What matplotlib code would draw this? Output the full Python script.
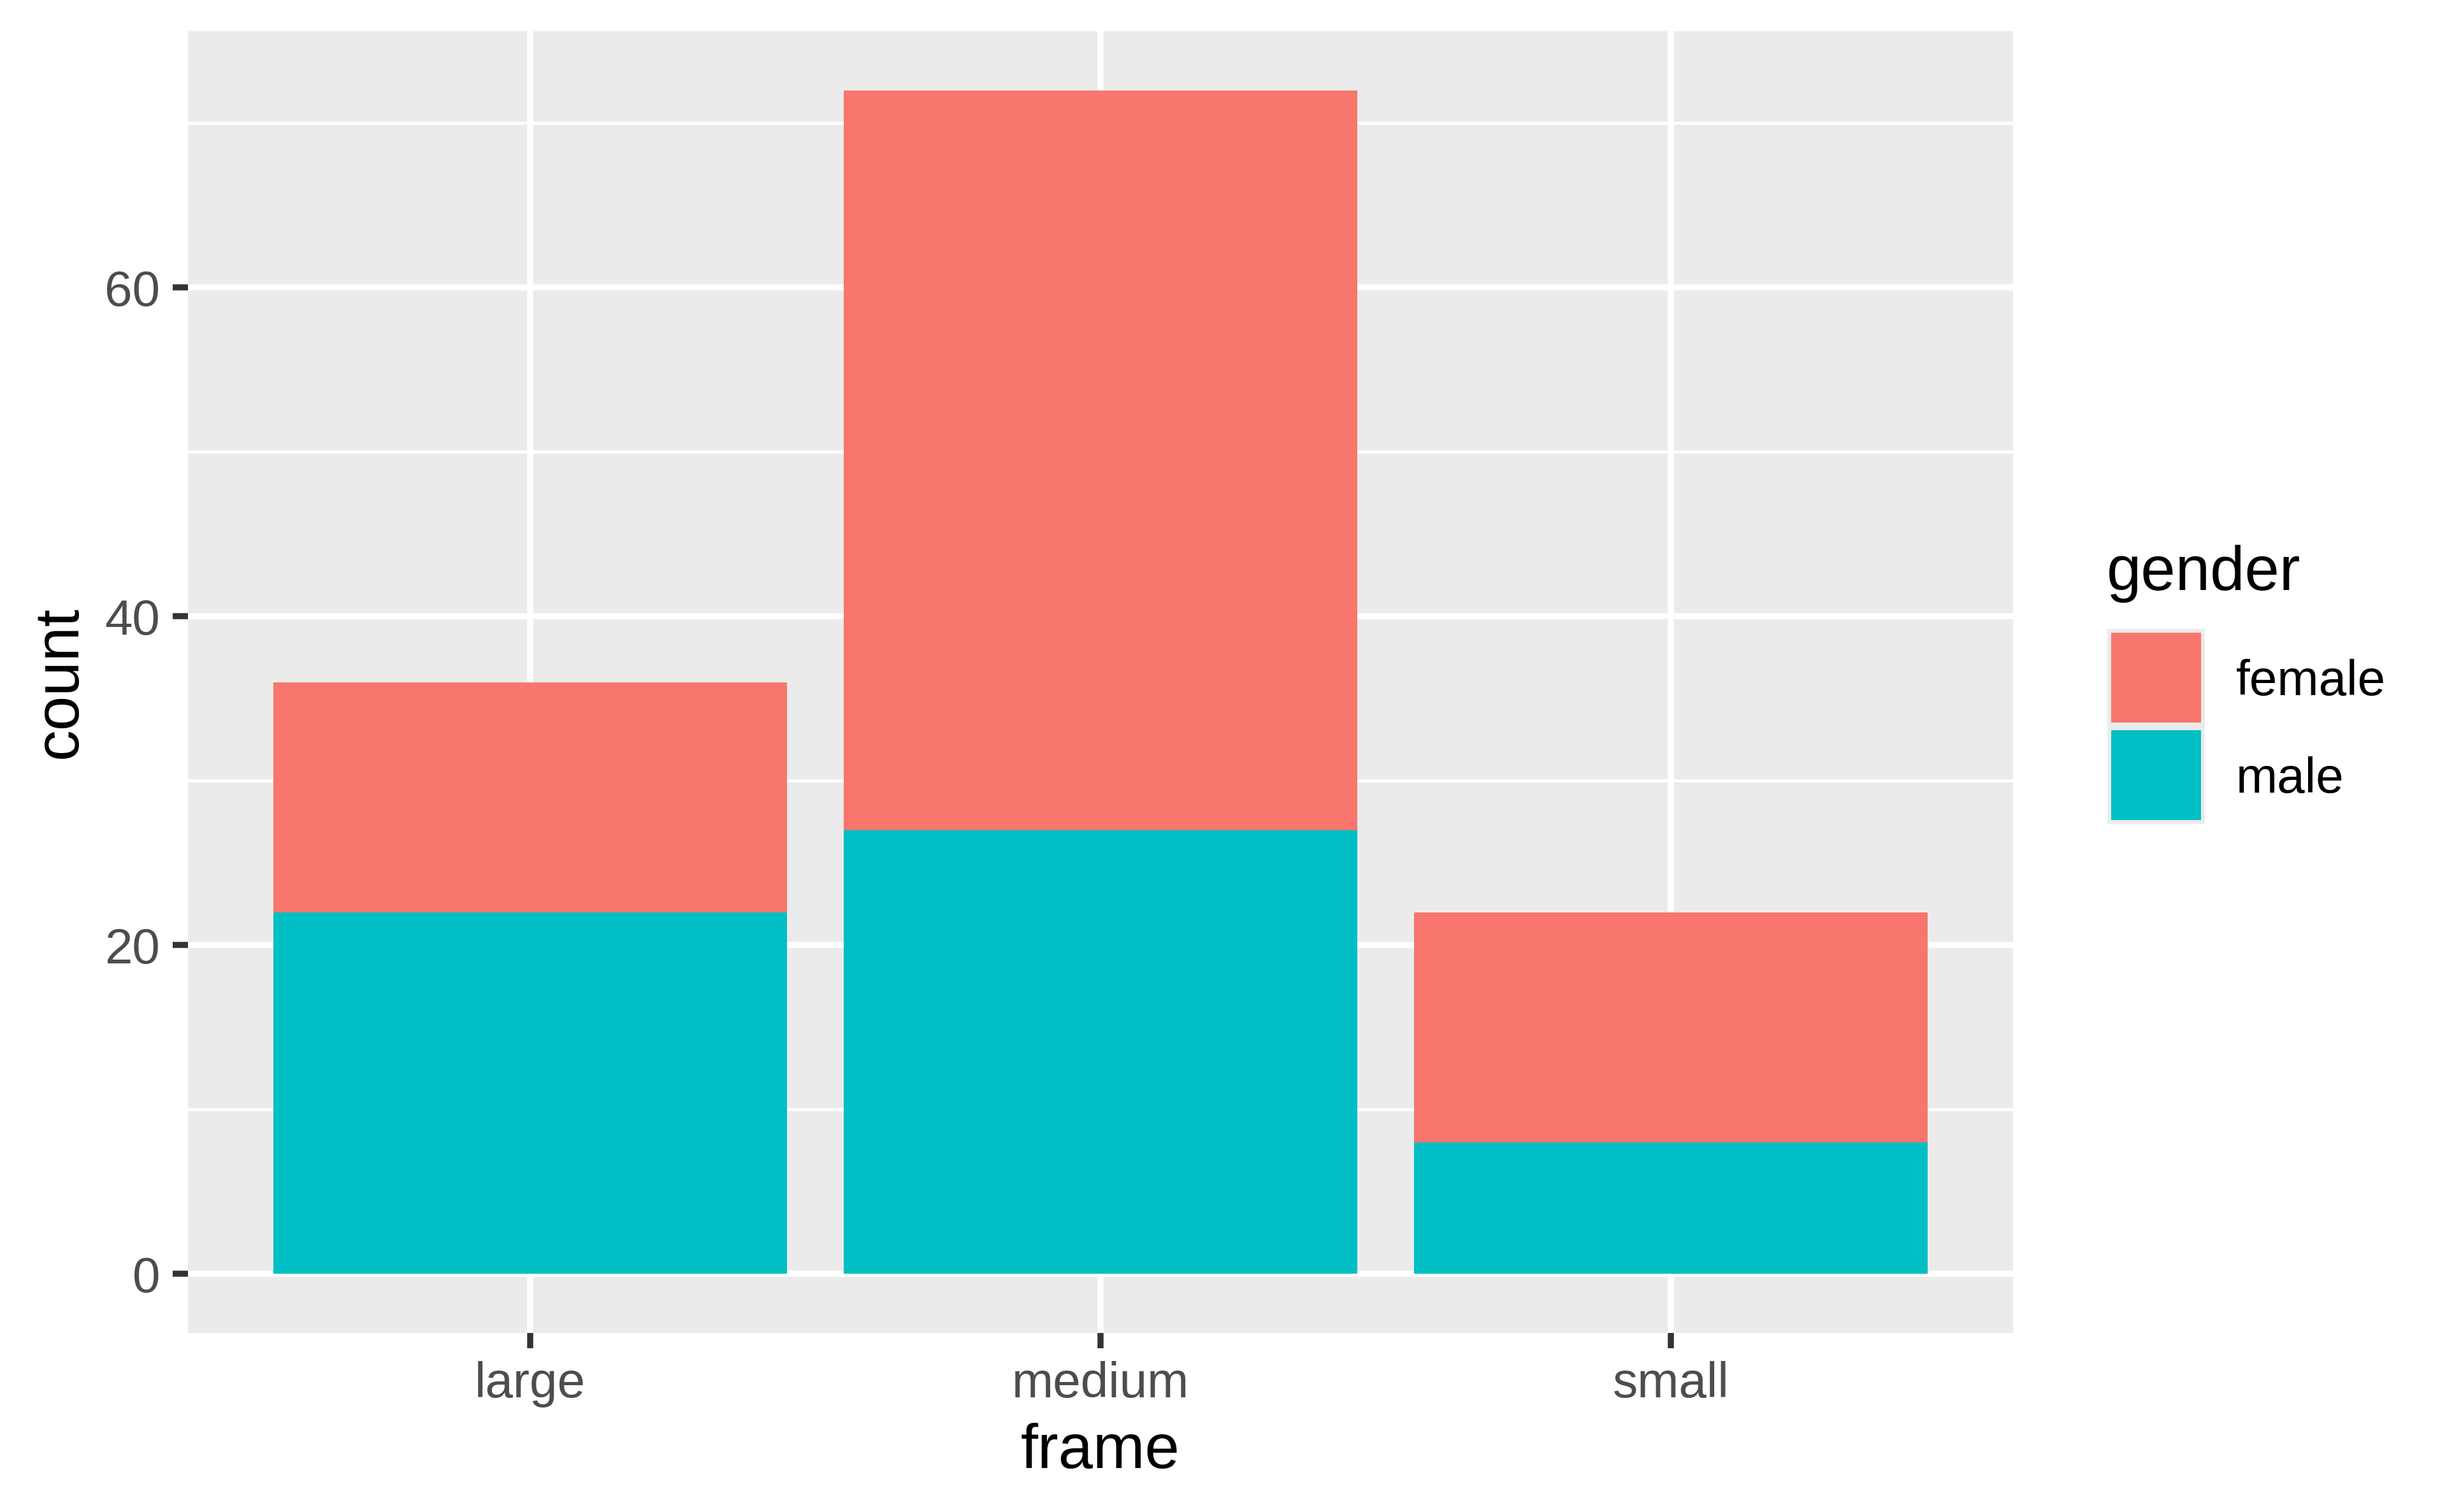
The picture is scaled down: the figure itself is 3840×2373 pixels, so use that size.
import numpy as np
import matplotlib.pyplot as plt
from matplotlib.patches import Rectangle

# Data
frames = ['large', 'medium', 'small']
male = [22, 27, 8]
female = [14, 45, 14]
genders = ['female', 'male']
colors = {'female': '#F8766D', 'male': '#00BFC4'}

W, H = 3840, 2373
DPI = 640
plt.rcParams['font.family'] = ['Liberation Sans', 'DejaVu Sans']

fig = plt.figure(figsize=(W / DPI, H / DPI), dpi=DPI)

def fx(px):
    return px / W

def fy(py):
    return 1 - py / H

# panel position (pixels in the full image)
left, right, top, bottom = 295, 3159, 49, 2092
ax = fig.add_axes([fx(left), fy(bottom), fx(right - left), fy(top) - fy(bottom)])
ax.set_facecolor('#EBEBEB')
ax.set_axisbelow(True)

x = np.arange(1, len(frames) + 1)
ax.bar(x, male, width=0.9, color=colors['male'], zorder=3)
ax.bar(x, female, width=0.9, bottom=male, color=colors['female'], zorder=3)

totals = np.array(male) + np.array(female)
ymax = totals.max()
ax.set_ylim(-0.05 * ymax, ymax * 1.05)
ax.set_xlim(0.4, 3.6)

ax.set_xticks(x)
ax.set_xticklabels(frames)
ax.set_yticks([0, 20, 40, 60])
ax.set_yticks([10, 30, 50, 70], minor=True)

ax.grid(which='major', color='white', linewidth=1.07)
ax.grid(which='minor', axis='y', color='white', linewidth=0.53)
ax.tick_params(which='major', length=2.75, width=1.07, color='#333333',
               labelsize=8.8, labelcolor='#4D4D4D', pad=2.2)
ax.tick_params(which='minor', length=0)
for s in ax.spines.values():
    s.set_visible(False)

ax.set_xlabel('frame', fontsize=11, color='black', labelpad=2.75)
ax.set_ylabel('count', fontsize=11, color='black', labelpad=2.75)

# legend drawn by hand, ggplot style
fig.text(fx(3306), fy(926), 'gender', fontsize=11, color='black',
         ha='left', va='baseline')
key_l, key_w = 3307, 153
key_tops = [987, 1140]
for g, kt in zip(genders, key_tops):
    fig.add_artist(Rectangle((fx(key_l), fy(kt + key_w)), fx(key_w), fy(kt) - fy(kt + key_w),
                             transform=fig.transFigure, facecolor='#EBEBEB', edgecolor='none'))
    inset = 6
    fig.add_artist(Rectangle((fx(key_l + inset), fy(kt + key_w - inset)), fx(key_w - 2 * inset),
                             fy(kt + inset) - fy(kt + key_w - inset),
                             transform=fig.transFigure, facecolor=colors[g], edgecolor='none'))
    fig.text(fx(3509), fy(kt + key_w / 2 + 7), g, fontsize=8.8, color='black',
             ha='left', va='center')

fig.savefig('out.png', dpi=DPI, facecolor='white')
